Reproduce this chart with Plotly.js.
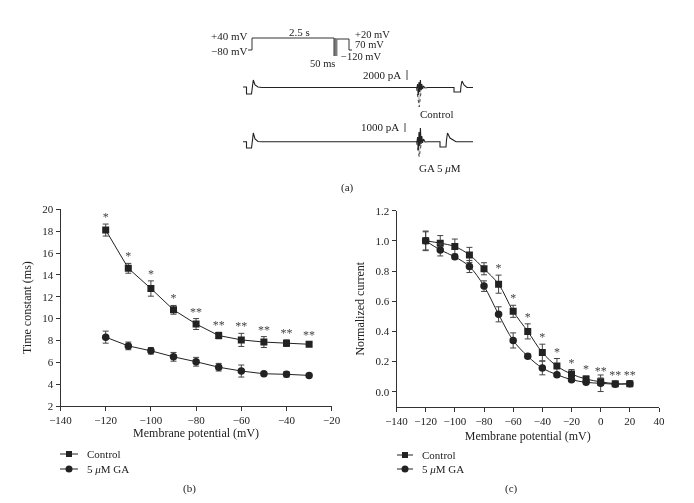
<!DOCTYPE html>
<html>
<head>
<meta charset="utf-8">
<script src="https://cdn.plot.ly/plotly-3.0.1.min.js"></script>
<style>html,body{margin:0;padding:0;background:#fff;}#chart{width:694px;height:503px;filter:grayscale(100%);}</style>
</head>
<body>
<div id="chart"></div>
<script>
// ---------- Panel (b): time constant ----------
const vB = [-120, -110, -100, -90, -80, -70, -60, -50, -40, -30];
const tauCtrl = [18.1, 14.6, 12.75, 10.8, 9.5, 8.45, 8.05, 7.85, 7.75, 7.65];
const tauCtrlErr = [0.55, 0.45, 0.7, 0.4, 0.5, 0.3, 0.6, 0.5, 0.3, 0.2];
const tauGA = [8.3, 7.5, 7.05, 6.5, 6.05, 5.55, 5.2, 4.95, 4.9, 4.8];
const tauGAErr = [0.55, 0.35, 0.3, 0.4, 0.4, 0.35, 0.55, 0.2, 0.25, 0.15];
const starsB = ['*', '*', '*', '*', '**', '**', '**', '**', '**', '**'];

// ---------- Panel (c): normalized current ----------
const vC = [-120, -110, -100, -90, -80, -70, -60, -50, -40, -30, -20, -10, 0, 10, 20];
const iCtrl = [1.0, 0.985, 0.962, 0.907, 0.815, 0.713, 0.533, 0.40, 0.26, 0.17, 0.117, 0.084, 0.066, 0.053, 0.053];
const iCtrlErr = [0.065, 0.05, 0.05, 0.05, 0.04, 0.06, 0.04, 0.05, 0.055, 0.05, 0.03, 0.02, 0.025, 0.012, 0.012];
const iGA = [1.0, 0.94, 0.894, 0.83, 0.70, 0.513, 0.34, 0.235, 0.157, 0.113, 0.08, 0.062, 0.056, 0.05, 0.052];
const iGAErr = [0.06, 0.04, 0.015, 0.04, 0.035, 0.05, 0.05, 0.015, 0.045, 0.015, 0.01, 0.01, 0.055, 0.01, 0.01];
const starsC = ['', '', '', '', '', '*', '*', '*', '*', '*', '*', '*', '**', '**', '**'];

const seriesNames = ['Control', '5 <i>μ</i>M GA'];

// ---------- Panel (a): schematic protocol & traces (drawing units) ----------
const protoX = [248, 252, 252, 334, 334];
const protoY = [50, 50, 38, 38, 56];
const familyX = [334.5, 334.5, null, 335.3, 335.3, null, 336.1, 336.1, null, 336.9, 336.9];
const familyY = [38, 56, null, 38, 56, null, 38, 56, null, 39, 56];
const stepX = [337, 349, 349, 352];
const stepY = [39, 39, 50, 50];
const ctrlTrX = [243, 246.5, 246.5, 251.5, 252.5, 253.3, 255, 258, 262, 417, 417.6, 418.3, 419, 419.7, 420.4, 421.1, 421.8, 422.6, 423.5, 425, 428, 454, 454, 460.5, 461, 462, 464, 467, 473];
const ctrlTrY = [87, 87, 94, 94, 86, 80, 85, 87, 87.5, 87.5, 84, 95, 82, 92, 80, 90, 84, 89, 86, 88, 87.5, 87.5, 92, 92, 86, 81, 85, 87.5, 87.5];
const gaTrX = [243, 246.5, 246.5, 251.5, 252.5, 253.3, 255, 258, 262, 417, 417.6, 418.3, 419, 419.7, 420.4, 421.1, 421.8, 422.6, 423.5, 425, 428, 440, 440, 446, 446.5, 447.5, 450, 456, 473];
const gaTrY = [141.7, 141.7, 148, 148, 140, 133, 139, 141.5, 141.7, 141.7, 137, 150, 132, 146, 128, 144, 136, 143, 139, 142, 141.7, 141.7, 147, 147, 140, 133, 138, 141.7, 141.7];
const ctrlTriX = [416.5, 419.2, 421.5];
const ctrlTriY = [88, 107, 88];
const gaTriX = [416.5, 419.2, 421.5];
const gaTriY = [142, 157, 142];

// legend keys (drawing units)
const legBx = [60, 78], legBmx = 69, legBtx = 85, legBy = [454, 469];
const legCx = [397, 413], legCmx = 405, legCtx = 420, legCy = [455, 469];

const ink = '#222';
const font = 'Liberation Serif, serif';

function errBar(arr) {
  return {type: 'data', array: arr, visible: true, color: '#444', thickness: 1, width: 3};
}
function deco(x, y, extra) {
  return Object.assign({x: x, y: y, xaxis: 'x3', yaxis: 'y3', mode: 'lines',
    line: {color: '#333', width: 1}, showlegend: false, hoverinfo: 'skip'}, extra || {});
}

const traces = [
  // panel b
  {x: vB, y: tauCtrl, xaxis: 'x', yaxis: 'y', mode: 'lines+markers', name: seriesNames[0],
   line: {color: ink, width: 1}, marker: {symbol: 'square', size: 7, color: ink},
   error_y: errBar(tauCtrlErr), showlegend: false},
  {x: vB, y: tauGA, xaxis: 'x', yaxis: 'y', mode: 'lines+markers', name: seriesNames[1],
   line: {color: ink, width: 1}, marker: {symbol: 'circle', size: 7.5, color: ink},
   error_y: errBar(tauGAErr), showlegend: false},
  {x: vB, y: tauCtrl.map((v, i) => v + tauCtrlErr[i]), xaxis: 'x', yaxis: 'y', mode: 'text',
   text: starsB, textposition: 'top center', textfont: {family: font, size: 12, color: '#444'},
   showlegend: false, hoverinfo: 'skip', cliponaxis: false},
  // panel c
  {x: vC, y: iCtrl, xaxis: 'x2', yaxis: 'y2', mode: 'lines+markers', name: seriesNames[0],
   line: {color: ink, width: 1, shape: 'spline', smoothing: 1}, marker: {symbol: 'square', size: 7, color: ink},
   error_y: errBar(iCtrlErr), showlegend: false},
  {x: vC, y: iGA, xaxis: 'x2', yaxis: 'y2', mode: 'lines+markers', name: seriesNames[1],
   line: {color: ink, width: 1, shape: 'spline', smoothing: 1}, marker: {symbol: 'circle', size: 7.5, color: ink},
   error_y: errBar(iGAErr), showlegend: false},
  {x: vC, y: iCtrl.map((v, i) => v + iCtrlErr[i]), xaxis: 'x2', yaxis: 'y2', mode: 'text',
   text: starsC, textposition: 'top center', textfont: {family: font, size: 12, color: '#444'},
   showlegend: false, hoverinfo: 'skip', cliponaxis: false},
  // panel a schematic
  deco(protoX, protoY),
  deco(familyX, familyY, {line: {color: '#666', width: 1}}),
  deco(stepX, stepY),
  deco(ctrlTriX, ctrlTriY, {fill: 'toself', fillcolor: 'rgba(120,120,120,0.35)', line: {color: '#444', width: 1, dash: 'dot'}}),
  deco(gaTriX, gaTriY, {fill: 'toself', fillcolor: 'rgba(120,120,120,0.35)', line: {color: '#444', width: 1, dash: 'dot'}}),
  deco(ctrlTrX, ctrlTrY, {line: {color: '#222', width: 1.1}}),
  deco(gaTrX, gaTrY, {line: {color: '#222', width: 1.1}}),
  deco([407, 407, null, 405, 405], [70, 80, null, 123, 132], {line: {color: '#444', width: 1}}),
  // legend keys
  deco(legBx, [legBy[0], legBy[0]], {line: {color: ink, width: 1}}),
  deco([legBmx], [legBy[0]], {mode: 'markers', marker: {symbol: 'square', size: 6, color: ink}}),
  deco(legBx, [legBy[1], legBy[1]], {line: {color: ink, width: 1}}),
  deco([legBmx], [legBy[1]], {mode: 'markers', marker: {symbol: 'circle', size: 7, color: ink}}),
  deco(legCx, [legCy[0], legCy[0]], {line: {color: ink, width: 1}}),
  deco([legCmx], [legCy[0]], {mode: 'markers', marker: {symbol: 'square', size: 6, color: ink}}),
  deco(legCx, [legCy[1], legCy[1]], {line: {color: ink, width: 1}}),
  deco([legCmx], [legCy[1]], {mode: 'markers', marker: {symbol: 'circle', size: 7, color: ink}})
];

function ann(x, y, text, anchor, size, ref) {
  return {x: x, y: y, xref: ref || 'x3', yref: ref ? 'paper' : 'y3', text: text, showarrow: false,
          xanchor: anchor || 'center', yanchor: 'middle', font: {family: font, size: size || 11, color: '#222'}};
}

const axisCommon = {
  showline: true, linecolor: '#333', linewidth: 1, ticks: 'outside', ticklen: 4, tickcolor: '#333',
  showgrid: false, zeroline: false, tickfont: {family: font, size: 11, color: '#222'}
};
const titleFont = {family: font, size: 12, color: '#222'};

const layout = {
  width: 694, height: 503,
  margin: {l: 0, r: 0, t: 0, b: 0},
  paper_bgcolor: '#fff', plot_bgcolor: 'rgba(0,0,0,0)',
  showlegend: false,
  xaxis: Object.assign({}, axisCommon, {domain: [60.5 / 694, 331.7 / 694], range: [-140, -20], dtick: 20, tick0: -140,
    anchor: 'y', title: {text: 'Membrane potential (mV)', font: titleFont, standoff: 3}}),
  yaxis: Object.assign({}, axisCommon, {domain: [1 - 406 / 503, 1 - 209.3 / 503], range: [2, 20], dtick: 2, tick0: 2,
    anchor: 'x', title: {text: 'Time constant (ms)', font: titleFont, standoff: 8}}),
  xaxis2: Object.assign({}, axisCommon, {domain: [396.5 / 694, 659 / 694], range: [-140, 40], dtick: 20, tick0: -140,
    anchor: 'y2', title: {text: 'Membrane potential (mV)', font: titleFont, standoff: 5}}),
  yaxis2: Object.assign({}, axisCommon, {domain: [1 - 406.8 / 503, 1 - 210.7 / 503], range: [-0.1, 1.2], dtick: 0.2, tick0: 0,
    tickformat: '.1f', anchor: 'x2', title: {text: 'Normalized current', font: titleFont, standoff: 8}}),
  xaxis3: {domain: [0, 1], range: [0, 694], visible: false, fixedrange: true, anchor: 'y3'},
  yaxis3: {domain: [0, 1], range: [503, 0], visible: false, fixedrange: true, anchor: 'x3'},
  annotations: [
    ann(250, 36, '+40 mV', 'right'),
    ann(250, 51, '−80 mV', 'right'),
    ann(299, 32, '2.5 s', 'center'),
    ann(353, 34, '+20 mV', 'left', 10.5),
    ann(353, 44.5, '70 mV', 'left', 10.5),
    ann(339, 56, '−120 mV', 'left', 10.5),
    ann(337, 63, '50 ms', 'right', 10.5),
    ann(403, 75, '2000 pA', 'right'),
    ann(418, 114, 'Control', 'left'),
    ann(401, 127, '1000 pA', 'right'),
    ann(417, 168, 'GA 5 <i>μ</i>M', 'left'),
    ann(347, 187, '(a)', 'center'),
    ann(legBtx, legBy[0], seriesNames[0], 'left'),
    ann(legBtx, legBy[1], seriesNames[1], 'left'),
    ann(legCtx, legCy[0], seriesNames[0], 'left'),
    ann(legCtx, legCy[1], seriesNames[1], 'left'),
    ann(190 / 694, 1 - 488 / 503, '(b)', 'center', 11, 'paper'),
    ann(512 / 694, 1 - 488 / 503, '(c)', 'center', 11, 'paper')
  ]
};

Plotly.newPlot('chart', traces, layout, {displayModeBar: false, staticPlot: true});
</script>
</body>
</html>
